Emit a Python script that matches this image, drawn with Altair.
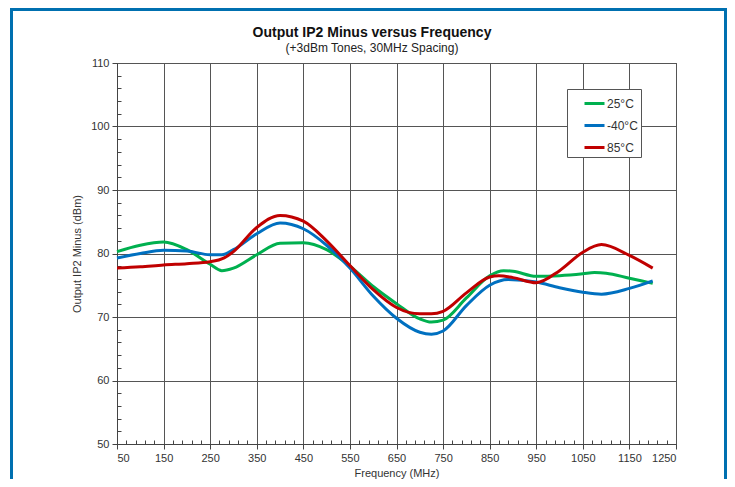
import altair as alt
import pandas as pd

# ---- data ----
freq_25 = [50, 100, 150, 200, 250, 275, 300, 350, 400, 450, 500, 550, 600, 650, 700, 725, 750, 800, 850, 880, 900, 950, 1000, 1050, 1075, 1100, 1150, 1200]
ip2_25 = [80.3, 81.3, 81.8, 80.6, 78.3, 77.3, 77.7, 79.8, 81.6, 81.7, 80.6, 78.0, 74.8, 72.1, 69.7, 69.2, 69.5, 73.0, 76.5, 77.3, 77.2, 76.4, 76.5, 76.8, 77.0, 76.9, 76.1, 75.3]

freq_m40 = [50, 100, 150, 200, 250, 275, 300, 350, 400, 450, 500, 550, 600, 650, 700, 725, 750, 800, 850, 890, 950, 1000, 1050, 1090, 1150, 1200]
ip2_m40 = [79.3, 80.0, 80.5, 80.4, 79.8, 79.8, 80.6, 83.1, 84.8, 83.9, 81.3, 77.7, 73.3, 69.8, 67.6, 67.3, 67.8, 71.8, 75.0, 75.9, 75.5, 74.6, 73.9, 73.6, 74.5, 75.7]

freq_85 = [50, 100, 150, 200, 250, 280, 300, 350, 400, 450, 500, 550, 600, 650, 700, 725, 750, 800, 850, 870, 900, 950, 1000, 1050, 1090, 1150, 1200]
ip2_85 = [77.7, 77.9, 78.2, 78.4, 78.7, 79.3, 80.3, 84.1, 86.0, 85.1, 82.0, 78.1, 74.3, 71.5, 70.5, 70.5, 70.9, 73.8, 76.3, 76.5, 76.2, 75.4, 77.3, 80.2, 81.4, 79.7, 77.7]

series_names = ["25°C", "-40°C", "85°C"]
series_colors = ["#00b04f", "#0070c0", "#c00000"]

x_ticks = list(range(50, 1251, 100))
x_minor = [v for v in range(50, 1251, 20) if v not in x_ticks]
y_ticks = list(range(50, 111, 10))
y_minor = [v for v in range(50, 111, 2) if v not in y_ticks]

title_text = "Output IP2 Minus versus Frequency"
subtitle_text = "(+3dBm Tones, 30MHz Spacing)"
x_title = "Frequency (MHz)"
y_title = "Output IP2 Minus (dBm)"

rows = []
for name, fx, fy in zip(series_names, [freq_25, freq_m40, freq_85], [ip2_25, ip2_m40, ip2_85]):
    for a, b in zip(fx, fy):
        rows.append({"freq": a, "ip2": b, "temp": name})
df = pd.DataFrame(rows)

FONT = "Liberation Sans"
W, H = 559, 381

xscale = alt.Scale(domain=[50, 1250], nice=False, zero=False)
yscale = alt.Scale(domain=[50, 110], nice=False, zero=False)

lines = alt.Chart(df).mark_line(strokeWidth=3, interpolate="monotone").encode(
    x=alt.X("freq:Q", scale=xscale,
            axis=alt.Axis(values=x_ticks, format="d", title=x_title, orient="bottom",
                          grid=True, gridColor="#555555",
                          gridWidth=1, gridOpacity=1, tickSize=5, tickColor="#444444",
                          domainColor="#444444", labelFontSize=11, labelColor="#333333",
                          labelPadding=3, titleFontSize=11, titleFontWeight="normal",
                          titleColor="#333333", titlePadding=4)),
    y=alt.Y("ip2:Q", scale=yscale,
            axis=alt.Axis(values=y_ticks, format="d", title=y_title, orient="left",
                          grid=True, gridColor="#555555",
                          gridWidth=1, gridOpacity=1, tickSize=5, tickColor="#444444",
                          domainColor="#444444", labelFontSize=11, labelColor="#333333",
                          labelPadding=3, titleFontSize=11, titleFontWeight="normal",
                          titleColor="#333333", titlePadding=8)),
    color=alt.Color("temp:N", sort=series_names,
                    scale=alt.Scale(domain=series_names, range=series_colors),
                    legend=alt.Legend(title=None, orient="none", legendX=450, legendY=26,
                                      fillColor="white", strokeColor="#555555", padding=3,
                                      symbolType="stroke", symbolStrokeWidth=3, symbolSize=400,
                                      symbolOffset=13, labelOffset=1, rowPadding=4,
                                      labelFontSize=12, labelColor="#333333")),
)

# minor ticks: a second, label-less axis pair drawn slightly inside the plot
minor = alt.Chart(df).mark_point(opacity=0).encode(
    x=alt.X("freq:Q", scale=xscale,
            axis=alt.Axis(values=x_minor, orient="bottom", offset=-4, labels=False, grid=False,
                          domain=False, tickSize=4, tickColor="#444444", title=None)),
    y=alt.Y("ip2:Q", scale=yscale,
            axis=alt.Axis(values=y_minor, orient="left", offset=-4, labels=False, grid=False,
                          domain=False, tickSize=4, tickColor="#444444", title=None)),
)

one = pd.DataFrame({"a": [0]})

frame_color = "#0070b0"
frame_left = alt.Chart(one).mark_rule(color=frame_color, strokeWidth=3).encode(
    x=alt.value(-105.5), y=alt.value(-55), y2=alt.value(520))
frame_top = alt.Chart(one).mark_rule(color=frame_color, strokeWidth=3).encode(
    x=alt.value(-107), x2=alt.value(612), y=alt.value(-53.5))
frame_right = alt.Chart(one).mark_rule(color=frame_color, strokeWidth=3).encode(
    x=alt.value(608.5), y=alt.value(-55), y2=alt.value(520))

title_mark = alt.Chart(one).mark_text(fontSize=14, fontWeight="bold", font=FONT,
                                      color="#111111", align="center", baseline="alphabetic").encode(
    x=alt.value(255), y=alt.value(-26), text=alt.value(title_text))
subtitle_mark = alt.Chart(one).mark_text(fontSize=12, font=FONT, color="#222222",
                                         align="center", baseline="alphabetic").encode(
    x=alt.value(255), y=alt.value(-11), text=alt.value(subtitle_text))

chart = alt.layer(lines, minor, frame_left, frame_top, frame_right, title_mark, subtitle_mark).resolve_axis(
    x="independent", y="independent"
).properties(
    width=W, height=H,
    autosize=alt.AutoSizeParams(type="none"),
    padding={"left": 109, "top": 55, "right": 51, "bottom": 35},
    background="white",
).configure(font=FONT).configure_view(stroke="#444444", strokeWidth=1)

chart.save("out.html", embed_options={"renderer": "svg", "actions": False})
